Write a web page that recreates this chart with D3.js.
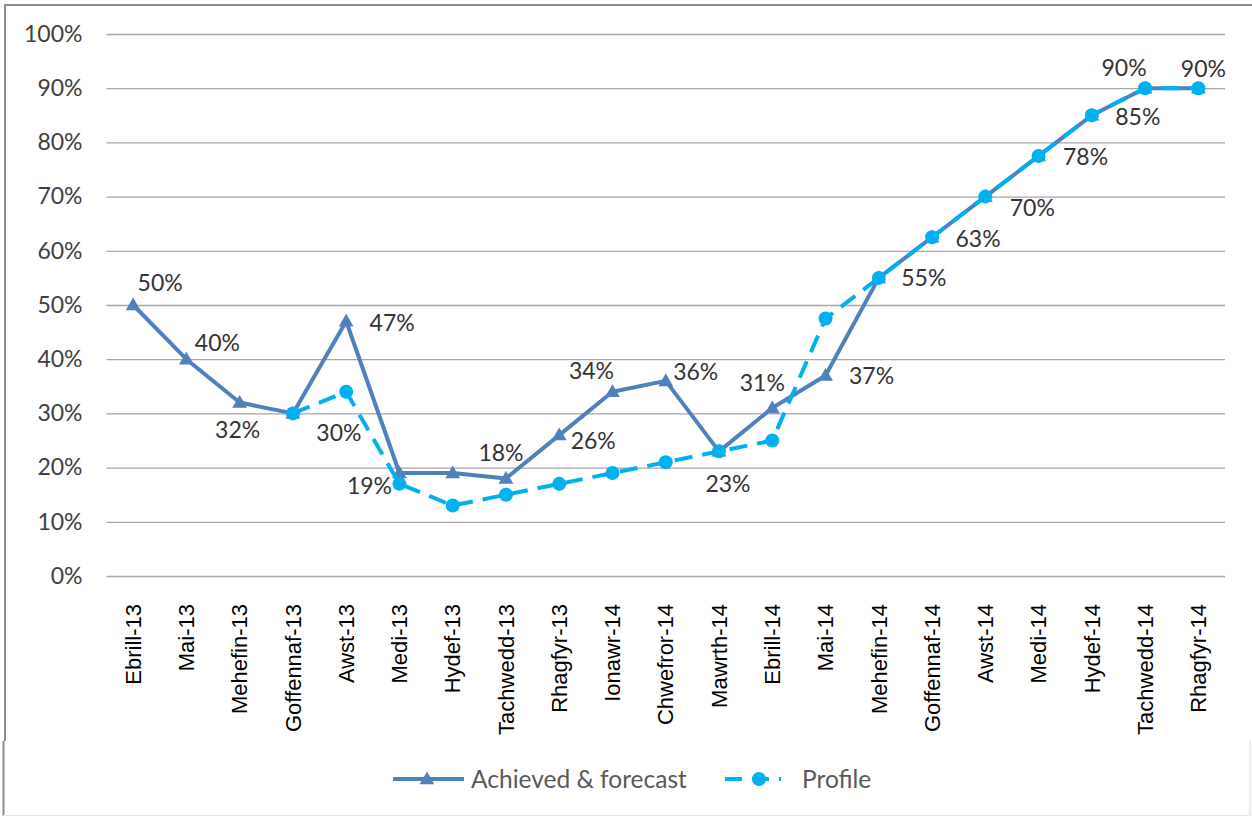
<!DOCTYPE html>
<html lang="en">
  <head>
    <meta charset="utf-8">
    <title>achieved vs profile</title>
    <script type="text/javascript" src="https://d3js.org/d3.v7.min.js"></script>
    <style>
      body { margin: 0; background: #fff; }
      .tick-y { font-family: Lato, sans-serif; font-size: 23px; fill: #404040; }
      .tick-x { font-family: "Liberation Sans", Arial, sans-serif; font-size: 22px; fill: #000; }
      .label { font-family: Lato, sans-serif; font-size: 23px; fill: #333; }
      .legend { font-family: Lato, sans-serif; font-size: 24.5px; fill: #595959; }
    </style>
  </head>
  <body>

    <svg id="chart"></svg>

    <script type="text/javascript">

    // DATA

    const months = ['Ebrill-13', 'Mai-13', 'Mehefin-13', 'Goffennaf-13', 'Awst-13', 'Medi-13',
      'Hydef-13', 'Tachwedd-13', 'Rhagfyr-13', 'Ionawr-14', 'Chwefror-14', 'Mawrth-14',
      'Ebrill-14', 'Mai-14', 'Mehefin-14', 'Goffennaf-14', 'Awst-14', 'Medi-14',
      'Hydef-14', 'Tachwedd-14', 'Rhagfyr-14'];

    const achieved = [0.50, 0.40, 0.32, 0.30, 0.47, 0.19, 0.19, 0.18, 0.26, 0.34, 0.36, 0.23,
      0.31, 0.37, 0.55, 0.625, 0.70, 0.775, 0.85, 0.90, 0.90];

    const profile = [null, null, null, 0.30, 0.34, 0.17, 0.13, 0.15, 0.17, 0.19, 0.21, 0.23,
      0.25, 0.475, 0.55, 0.625, 0.70, 0.775, 0.85, 0.90, 0.90];

    // which achieved points carry a data label (Hydef-13 has none in the original)
    const labelled = [true, true, true, true, true, true, false, true, true, true, true, true,
      true, true, true, true, true, true, true, true, true];

    const yTicks = [0, 0.1, 0.2, 0.3, 0.4, 0.5, 0.6, 0.7, 0.8, 0.9, 1.0];

    const seriesNames = ['Achieved & forecast', 'Profile'];


    // DIMENSIONS

    const width = 1252;
    const height = 816;

    const plot = { left: 106.5, right: 1225, top: 34, bottom: 576 };

    const colors = { achieved: '#4f81bd', profile: '#00b0f0', grid: '#a6a6a6' };

    // label offsets from each point (dx, dy), set by hand like Excel's label placement
    const labelOffset = [[27, -22], [31, -16], [-2, 27], [46, 20], [46, 2], [-30, 13], [0, 0],
      [-5, -25], [34, 6], [-21, -21], [30, -9], [9, 33], [-10, -25], [46, 0], [45, 0], [46, 2],
      [47, 11], [47, 1], [46, 2], [-21, -20], [5, -19]];

    const svg = d3.select('#chart')
      .attr('width', width)
      .attr('height', height);


    // SCALES

    const x = d3.scaleBand()
      .domain(months)
      .range([plot.left, plot.right]);

    const y = d3.scaleLinear()
      .domain([0, 1])
      .range([plot.bottom, plot.top]);

    const cx = d => x(d) + x.bandwidth() / 2;
    const pct = d3.format('.0%');


    // FRAME (the original is a cropped screenshot)

    svg.append('line').attr('x1', 4).attr('y1', 5).attr('x2', width).attr('y2', 5)
      .attr('stroke', '#8c8c8c').attr('stroke-width', 2);
    svg.append('line').attr('x1', 5).attr('y1', 4).attr('x2', 5).attr('y2', 741)
      .attr('stroke', '#8c8c8c').attr('stroke-width', 2);
    svg.append('line').attr('x1', 3.5).attr('y1', 741).attr('x2', 3.5).attr('y2', height)
      .attr('stroke', '#8c8c8c').attr('stroke-width', 2);
    svg.append('line').attr('x1', 1250).attr('y1', 741).attr('x2', 1250).attr('y2', height)
      .attr('stroke', '#d9d9d9').attr('stroke-width', 1);
    svg.append('line').attr('x1', 3).attr('y1', 815.5).attr('x2', 1250).attr('y2', 815.5)
      .attr('stroke', '#e6e6e6').attr('stroke-width', 1);


    // AXES

    const yAxis = svg.append('g')
      .attr('transform', `translate(${plot.left},0)`)
      .call(d3.axisLeft(y).tickValues(yTicks).tickFormat(pct)
        .tickSize(-(plot.right - plot.left)).tickPadding(24));

    yAxis.select('.domain').remove();
    yAxis.selectAll('.tick line').attr('stroke', colors.grid).attr('stroke-width', 1.3);
    yAxis.selectAll('.tick text')
      .attr('class', 'tick-y')
      .attr('fill', null);
    yAxis.attr('font-size', null).attr('font-family', null);

    const xAxis = svg.append('g')
      .attr('transform', `translate(0,${plot.bottom})`)
      .call(d3.axisBottom(x).tickSize(0).tickPadding(0));

    xAxis.select('.domain').remove();
    xAxis.attr('font-size', null).attr('font-family', null);
    xAxis.selectAll('.tick text')
      .attr('class', 'tick-x')
      .attr('fill', null)
      .attr('text-anchor', 'end')
      .attr('dy', '0.35em')
      .attr('transform', 'translate(0,28) rotate(-90)');


    // SERIES

    const achievedData = months.map((m, i) => ({ m: m, v: achieved[i], i: i }));
    const profileData = months.map((m, i) => ({ m: m, v: profile[i], i: i }))
      .filter(d => d.v !== null);

    const line = d3.line()
      .x(d => cx(d.m))
      .y(d => y(d.v));

    svg.append('path')
      .datum(achievedData)
      .attr('d', line)
      .attr('fill', 'none')
      .attr('stroke', colors.achieved)
      .attr('stroke-width', 4)
      .attr('stroke-linejoin', 'round');

    svg.append('g')
      .selectAll('path')
      .data(achievedData)
      .join('path')
      .attr('d', d3.symbol(d3.symbolTriangle, 95))
      .attr('transform', d => `translate(${cx(d.m)},${y(d.v) + 1})`)
      .attr('fill', colors.achieved);

    svg.append('path')
      .datum(profileData)
      .attr('d', line)
      .attr('fill', 'none')
      .attr('stroke', colors.profile)
      .attr('stroke-width', 4)
      .attr('stroke-dasharray', '18,10');

    svg.append('g')
      .selectAll('circle')
      .data(profileData)
      .join('circle')
      .attr('cx', d => cx(d.m))
      .attr('cy', d => y(d.v))
      .attr('r', 7)
      .attr('fill', colors.profile);

    // data labels
    svg.append('g')
      .selectAll('text')
      .data(achievedData.filter(d => labelled[d.i]))
      .join('text')
      .text(d => pct(d.v))
      .attr('x', d => cx(d.m) + labelOffset[d.i][0])
      .attr('y', d => y(d.v) + labelOffset[d.i][1])
      .attr('text-anchor', 'middle')
      .attr('dy', '0.35em')
      .attr('class', 'label');


    // LEGEND

    const legendY = 779;
    const legend = svg.append('g');

    legend.append('line')
      .attr('x1', 393).attr('x2', 464).attr('y1', legendY).attr('y2', legendY)
      .attr('stroke', colors.achieved).attr('stroke-width', 4);
    legend.append('path')
      .attr('d', d3.symbol(d3.symbolTriangle, 95))
      .attr('transform', `translate(427,${legendY + 1})`)
      .attr('fill', colors.achieved);
    legend.append('text')
      .text(seriesNames[0])
      .attr('x', 471).attr('y', legendY)
      .attr('dy', '0.35em')
      .attr('class', 'legend');

    legend.append('line')
      .attr('x1', 725).attr('x2', 781).attr('y1', legendY).attr('y2', legendY)
      .attr('stroke', colors.profile).attr('stroke-width', 4)
      .attr('stroke-dasharray', '17,10');
    legend.append('circle')
      .attr('cx', 759).attr('cy', legendY).attr('r', 7)
      .attr('fill', colors.profile);
    legend.append('text')
      .text(seriesNames[1])
      .attr('x', 802).attr('y', legendY)
      .attr('dy', '0.35em')
      .attr('class', 'legend');

    </script>
  </body>
</html>
